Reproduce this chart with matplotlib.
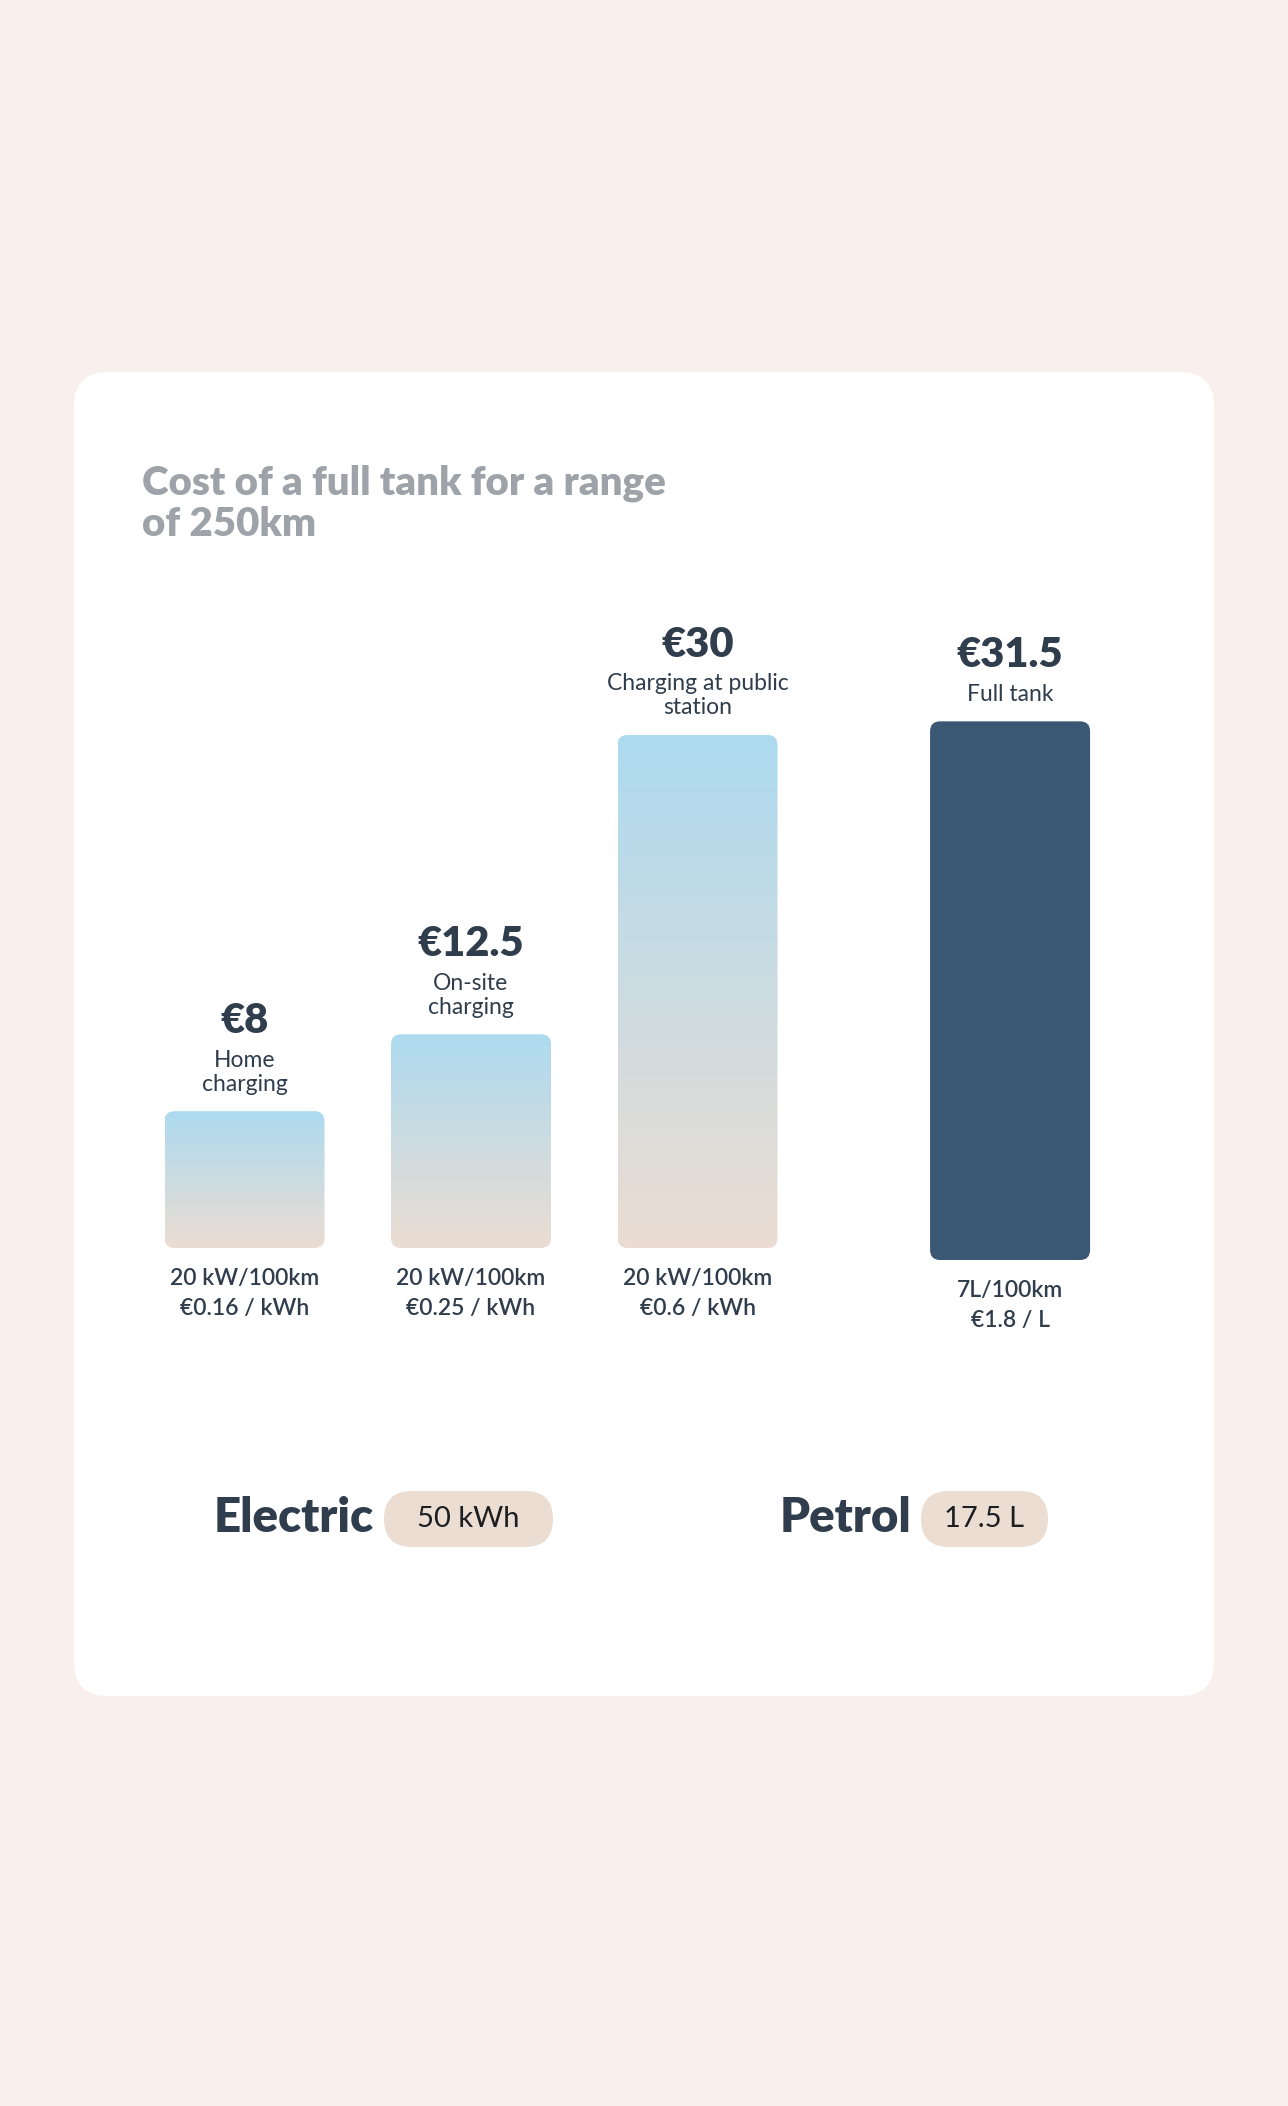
import matplotlib
matplotlib.use("Agg")
import matplotlib.pyplot as plt
import matplotlib.patches as patches
import matplotlib.colors as mcolors
import numpy as np

plt.rcParams['font.family'] = ['Lato', 'DejaVu Sans']

# --- data ---
costs = [8, 12.5, 30, 31.5]
value_labels = ["€8", "€12.5", "€30", "€31.5"]
sub_labels = ["Home\ncharging", "On-site\ncharging", "Charging at public\nstation", "Full tank"]
usage = ["20 kW/100km", "20 kW/100km", "20 kW/100km", "7L/100km"]
unit_price = ["€0.16 / kWh", "€0.25 / kWh", "€0.6 / kWh", "€1.8 / L"]
fuel_type = ["electric", "electric", "electric", "petrol"]
groups = ["Electric", "Petrol"]
capacity = ["50 kWh", "17.5 L"]

# --- style ---
BG = "#F9EFEC"
CARD = "#FFFFFF"
TITLE_GREY = "#9DA3A8"
DARK = "#2F3D4C"
PETROL = "#3A5874"
GRAD_TOP = "#ADDAF0"
GRAD_BOT = "#EBDDD2"
PILL = "#EBDDD1"

W, H = 1288, 2106
fig = plt.figure(figsize=(W / 100, H / 100), dpi=100, facecolor=BG)

# background axes in pixel coords (y downwards)
bg = fig.add_axes([0, 0, 1, 1])
bg.set_xlim(0, W)
bg.set_ylim(H, 0)
bg.axis('off')
bg.set_facecolor(BG)

card = patches.FancyBboxPatch((74, 372), 1140, 1324,
                              boxstyle="round,pad=0,rounding_size=34",
                              facecolor=CARD, edgecolor='none')
bg.add_patch(card)

bg.text(142, 494, "Cost of a full tank for a range", color=TITLE_GREY,
        fontsize=29, fontweight='heavy', va='baseline', ha='left')
bg.text(142, 536, "of 250km", color=TITLE_GREY,
        fontsize=29, fontweight='heavy', va='baseline', ha='left')

# --- bar axes ---
px_per_x = 226.5          # pixels between electric bars
px_per_y = 17.1           # pixels per euro
x0_px = 244.5             # centre of first bar
positions = [0, 1, 2, 3.38]
bar_w = 160 / px_per_x
ax_h_px = 620
xl = ((74 - x0_px) / px_per_x, (1214 - x0_px) / px_per_x)


def make_ax(baseline_px):
    a = fig.add_axes([74 / W, (H - baseline_px) / H, 1140 / W, ax_h_px / H])
    a.set_xlim(*xl)
    a.set_ylim(0, ax_h_px / px_per_y)
    a.axis('off')
    a.patch.set_alpha(0)
    return a


ax_e = make_ax(1248)
ax_p = make_ax(1260)

grad = np.linspace(0, 1, 256).reshape(-1, 1)
cmap = mcolors.LinearSegmentedColormap.from_list("ev", [GRAD_BOT, GRAD_TOP])
r_px = 10
r_x = r_px / px_per_x
aspect = px_per_x / px_per_y

for i, v in enumerate(costs):
    ax = ax_e if fuel_type[i] == "electric" else ax_p
    x = positions[i]
    box = patches.FancyBboxPatch((x - bar_w / 2, 0), bar_w, v,
                                 boxstyle=f"round,pad=0,rounding_size={r_x}",
                                 mutation_aspect=aspect,
                                 facecolor=PETROL if fuel_type[i] == "petrol" else 'none',
                                 edgecolor='none')
    ax.add_patch(box)
    if fuel_type[i] == "electric":
        im = ax.imshow(grad, cmap=cmap, origin='lower', aspect='auto',
                       extent=[x - bar_w / 2, x + bar_w / 2, 0, v], zorder=1)
        im.set_clip_path(box)

    # labels above bar
    lines = sub_labels[i].split("\n")
    off = 27
    for ln in reversed(lines):
        ax.annotate(ln, xy=(x, v), xytext=(0, off), textcoords='offset pixels',
                    ha='center', va='center', fontsize=16.5, color=DARK)
        off += 24
    off += 15
    ax.annotate(value_labels[i], xy=(x, v), xytext=(0, off), textcoords='offset pixels',
                ha='center', va='center', fontsize=30, fontweight='heavy', color=DARK)

    # labels under bar
    ax.annotate(usage[i], xy=(x, 0), xytext=(0, -30), textcoords='offset pixels',
                ha='center', va='center', fontsize=16.5, fontweight='semibold', color=DARK)
    ax.annotate(unit_price[i], xy=(x, 0), xytext=(0, -60), textcoords='offset pixels',
                ha='center', va='center', fontsize=16.5, fontweight='semibold', color=DARK)

# --- legend row ---
pill_x = [384, 921]
pill_w = [169, 127]
for name, cap, px, pw in zip(groups, capacity, pill_x, pill_w):
    bg.text(px - 10, 1518, name, fontsize=34, fontweight='heavy', color=DARK,
            ha='right', va='center')
    pill = patches.FancyBboxPatch((px, 1491), pw, 56,
                                  boxstyle="round,pad=0,rounding_size=28",
                                  facecolor=PILL, edgecolor='none')
    bg.add_patch(pill)
    bg.text(px + pw / 2, 1519, cap, fontsize=21, fontweight='normal', color="#1C1F22",
            ha='center', va='center')

plt.savefig("out.png", dpi=100, facecolor=BG)
